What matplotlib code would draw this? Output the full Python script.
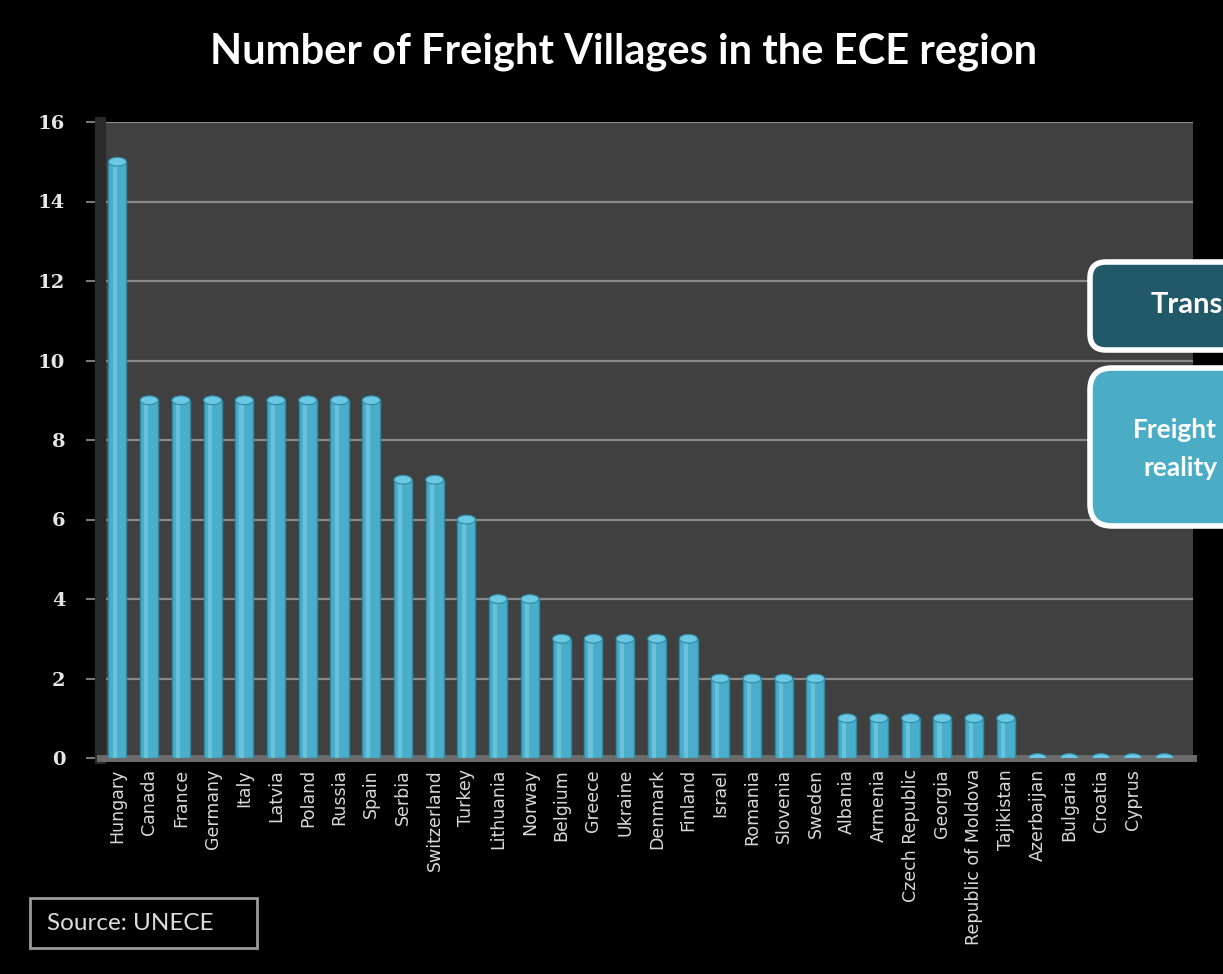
import numpy as np
import matplotlib
matplotlib.use('Agg')
import matplotlib.pyplot as plt
from matplotlib.patches import Ellipse, FancyBboxPatch, Rectangle

countries = ['Hungary', 'Canada', 'France', 'Germany', 'Italy', 'Latvia', 'Poland',
             'Russia', 'Spain', 'Serbia', 'Switzerland', 'Turkey', 'Lithuania',
             'Norway', 'Belgium', 'Greece', 'Ukraine', 'Denmark', 'Finland', 'Israel',
             'Romania', 'Slovenia', 'Sweden', 'Albania', 'Armenia', 'Czech Republic',
             'Georgia', 'Republic of Moldova', 'Tajikistan', 'Azerbaijan', 'Bulgaria',
             'Croatia', 'Cyprus', '']
villages = [15, 9, 9, 9, 9, 9, 9, 9, 9, 7, 7, 6, 4, 4, 3, 3, 3, 3, 3, 2, 2, 2, 2,
            1, 1, 1, 1, 1, 1, 0, 0, 0, 0, 0]
yticks = [0, 2, 4, 6, 8, 10, 12, 14, 16]

W, H = 1223, 974
fig = plt.figure(figsize=(W / 100, H / 100), dpi=100, facecolor='black')

# main chart area (pixel box 100..1193 x 122..758)
ax = fig.add_axes([100 / W, 1 - 758 / H, 1093 / W, (758 - 122) / H])
ax.set_facecolor('#404040')
x = np.arange(len(countries))
bw = 0.57
ax.bar(x, villages, width=bw, color='#4aaecb', edgecolor='#2d8aa3', lw=1, zorder=3)
ax.bar(x - 0.09, villages, width=0.13, color='#7ed0e6', lw=0, alpha=0.6, zorder=4)
for xi, v in zip(x, villages):
    ax.add_patch(Ellipse((xi, v), bw, 0.22, fc='#6cc8e2', ec='#2d8aa3', lw=0.8, zorder=5))

ax.set_xlim(-0.55, 33.9)
ax.set_ylim(0, 16)
ax.set_yticks(yticks)
ax.yaxis.grid(True, color='#8a8a8a', lw=1.6, zorder=0)
ax.set_axisbelow(True)
ax.set_xticks(x)
ax.set_xticklabels(countries, rotation=90, fontsize=12.5, color='#d9d9d9',
                   family='DejaVu Sans')
ax.tick_params(axis='x', length=0, pad=8)
ax.tick_params(axis='y', length=10, color='#7a7a7a', width=1.5, pad=15,
               labelsize=14, labelcolor='#e6e6e6')
for lbl in ax.get_yticklabels():
    lbl.set_family('DejaVu Serif')
    lbl.set_fontweight('bold')
for s in ['top', 'right']:
    ax.spines[s].set_visible(False)
ax.spines['left'].set_color('#2a2a2a')
ax.spines['left'].set_linewidth(8)
ax.spines['bottom'].set_color('#6b6b6b')
ax.spines['bottom'].set_linewidth(5)

# overlay in pixel coordinates for title, source box and the side boxes
ov = fig.add_axes([0, 0, 1, 1])
ov.set_xlim(0, W)
ov.set_ylim(H, 0)
ov.axis('off')
ov.patch.set_alpha(0)

ov.text(624, 52, 'Number of Freight Villages in the ECE region', ha='center',
        va='center', fontsize=30, fontweight='bold', color='white', family='Lato')

ov.add_patch(Rectangle((30, 898), 227, 50, fc='none', ec='#9a9a9a', lw=2))
ov.text(47, 924, 'Source: UNECE', ha='left', va='center', fontsize=17.5,
        color='#dcdcdc', family='Lato')

ov.add_patch(FancyBboxPatch((1090, 262), 180, 88,
                            boxstyle='round,pad=0,rounding_size=16',
                            fc='#215968', ec='white', lw=4))
ov.text(1151, 305, 'Trans', ha='left', va='center', fontsize=21,
        fontweight='bold', color='white', family='Lato')
ov.add_patch(FancyBboxPatch((1090, 368), 180, 158,
                            boxstyle='round,pad=0,rounding_size=22',
                            fc='#4bacc6', ec='white', lw=4))
ov.text(1133, 430, 'Freight', ha='left', va='center', fontsize=19,
        fontweight='bold', color='white', family='Lato')
ov.text(1143, 468, 'reality', ha='left', va='center', fontsize=19,
        fontweight='bold', color='white', family='Lato')

fig.savefig('out.png', dpi=100, facecolor='black')
